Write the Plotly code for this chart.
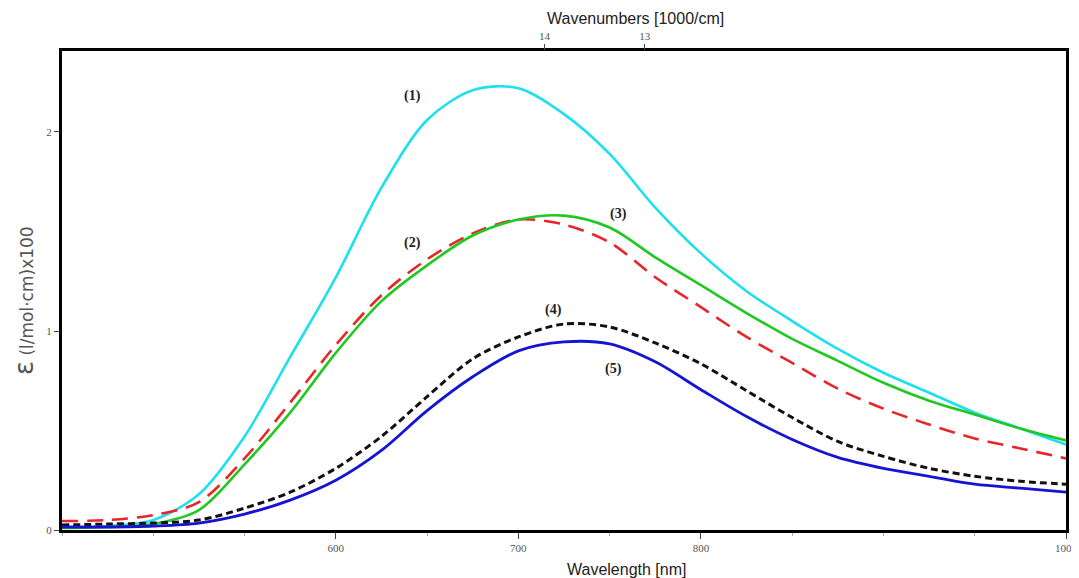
import plotly.graph_objects as go

# longueurs d'onde (nm) communes a toutes les courbes
wavelength = [450, 475, 500, 525, 550, 575, 600, 625, 650, 675, 700, 725,
              750, 775, 800, 825, 850, 875, 900, 925, 950, 975, 1000]

# epsilon (l/mol.cm) x100
eps_1 = [0.015, 0.02, 0.05, 0.18, 0.47, 0.87, 1.27, 1.72, 2.06, 2.21, 2.22, 2.09,
         1.89, 1.62, 1.39, 1.20, 1.05, 0.91, 0.79, 0.69, 0.59, 0.51, 0.43]
eps_2 = [0.045, 0.05, 0.075, 0.14, 0.36, 0.64, 0.93, 1.18, 1.36, 1.49, 1.56, 1.535,
         1.445, 1.27, 1.12, 0.97, 0.84, 0.71, 0.61, 0.53, 0.46, 0.41, 0.36]
eps_3 = [0.01, 0.015, 0.03, 0.10, 0.33, 0.59, 0.89, 1.15, 1.33, 1.48, 1.56, 1.58,
         1.52, 1.37, 1.23, 1.09, 0.96, 0.85, 0.74, 0.65, 0.58, 0.51, 0.45]
eps_4 = [0.025, 0.03, 0.035, 0.05, 0.11, 0.19, 0.31, 0.47, 0.67, 0.86, 0.97, 1.035,
         1.02, 0.94, 0.835, 0.70, 0.565, 0.445, 0.37, 0.31, 0.27, 0.245, 0.23]
eps_5 = [0.015, 0.015, 0.02, 0.035, 0.08, 0.15, 0.25, 0.40, 0.60, 0.77, 0.90, 0.945,
         0.935, 0.845, 0.705, 0.57, 0.455, 0.365, 0.31, 0.27, 0.23, 0.21, 0.19]

# etiquettes des courbes et leur position (nm, epsilon)
labels = ["(1)", "(2)", "(3)", "(4)", "(5)"]
label_x = [642, 642, 755, 719, 752]
label_y = [2.18, 1.44, 1.59, 1.105, 0.81]

# graduations
wl_ticks = [600, 700, 800, 1000]
wn_ticks = [14, 13]          # 1000/cm
y_ticks = [0, 1, 2]

series = [
    (eps_1, "#1EE0EC", "solid", 2.6),
    (eps_2, "#E8262A", "16px,9px", 2.6),
    (eps_3, "#22C822", "solid", 2.6),
    (eps_4, "#111111", "7px,4px", 3.0),
    (eps_5, "#1414D2", "solid", 2.8),
]

fig = go.Figure()
for ys, col, dash, w in series:
    fig.add_trace(go.Scatter(
        x=wavelength, y=ys, mode="lines",
        line=dict(color=col, width=w, dash=dash, shape="spline", smoothing=0.9),
        showlegend=False, hoverinfo="skip"
    ))

# trace invisible pour porter l'axe du haut (nombres d'onde)
fig.add_trace(go.Scatter(
    x=[1e4 / k for k in wn_ticks], y=[0, 0], xaxis="x2", mode="markers",
    marker=dict(opacity=0), showlegend=False, hoverinfo="skip"
))

for t, xx, yy in zip(labels, label_x, label_y):
    fig.add_annotation(x=xx, y=yy, text="<b>" + t + "</b>", showarrow=False,
                       font=dict(family="Liberation Serif", size=14, color="#222"))

tick_font = dict(family="Liberation Serif", size=11, color="#555")

# la page ajoute une marge de 8 px autour de la figure
fig.update_layout(
    width=1079, height=570,
    margin=dict(l=54, r=21, t=43, b=48),
    paper_bgcolor="white", plot_bgcolor="white",
    xaxis=dict(
        range=[450, 1000], tickvals=wl_ticks, ticktext=[str(v) for v in wl_ticks],
        showgrid=False, zeroline=False, showline=True, linecolor="black",
        linewidth=3, mirror=True, ticks="outside", ticklen=6, tickcolor="#444",
        tickwidth=1, tickfont=tick_font, automargin=False,
        ticklabeloverflow="allow",
        minor=dict(dtick=50, tick0=450, ticks="outside", ticklen=3, tickcolor="#aaa")
    ),
    xaxis2=dict(
        range=[450, 1000], overlaying="x", side="top", anchor="y",
        tickvals=[1e4 / k for k in wn_ticks], ticktext=[str(k) for k in wn_ticks],
        showgrid=False, zeroline=False, showline=False, automargin=False,
        ticks="outside", ticklen=6, tickcolor="#444", tickwidth=1,
        tickfont=tick_font
    ),
    yaxis=dict(
        range=[0, 2.407], tickvals=y_ticks, ticktext=[str(v) for v in y_ticks],
        showgrid=False, zeroline=False, showline=True, linecolor="black",
        linewidth=3, mirror=True, ticks="outside", ticklen=5, tickcolor="#444",
        tickwidth=1, tickfont=tick_font, automargin=False
    ),
)

fig.add_annotation(
    xref="paper", yref="paper", x=0.562, y=0, yshift=-39, yanchor="middle",
    text="Wavelength [nm]", showarrow=False,
    font=dict(family="Liberation Sans", size=16, color="#222")
)
fig.add_annotation(
    xref="paper", yref="paper", x=0.571, y=1.0, yshift=33, yanchor="middle",
    text="Wavenumbers [1000/cm]", showarrow=False,
    font=dict(family="Liberation Sans", size=16, color="#222")
)
fig.add_annotation(
    xref="paper", yref="paper", x=0, xshift=-38, y=0.478, xanchor="center",
    text="<span style='font-size:26px'>ε</span> (l/mol·cm)x100",
    textangle=-90, showarrow=False,
    font=dict(family="DejaVu Sans", size=17, color="#555")
)

fig.write_html("out.html")
